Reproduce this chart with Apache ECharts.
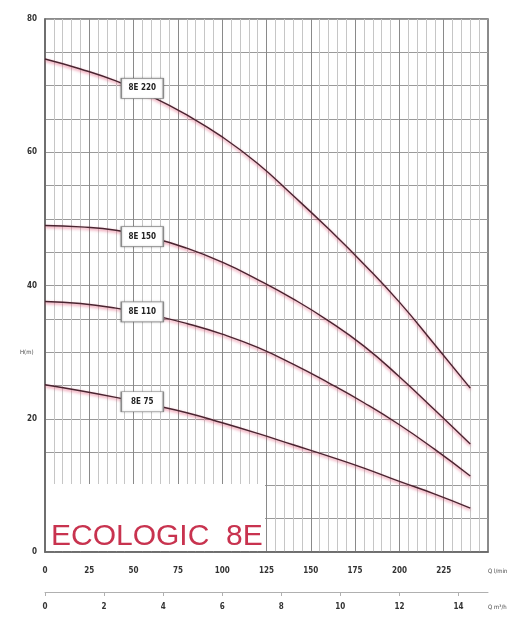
<!DOCTYPE html>
<html>
<head>
<meta charset="utf-8">
<script src="https://cdn.jsdelivr.net/npm/echarts@6/dist/echarts.min.js"></script>
<style>
html,body{margin:0;padding:0;background:#fff;}
#chart{width:515px;height:623px;}
</style>
</head>
<body>
<div id="chart"></div>
<script>
// Flow rate samples (l/min)
const flowLpm = [0, 20, 40, 60, 80, 100, 120, 140, 160, 180, 200, 220, 240];
// Head (m) per model
const head8E220 = [74.0, 72.5, 70.7, 68.4, 65.6, 62.3, 58.3, 53.5, 48.5, 43.2, 37.5, 31.1, 24.6];
const head8E150 = [49.0, 48.8, 48.3, 47.2, 45.6, 43.5, 40.9, 38.0, 34.7, 30.9, 26.3, 21.3, 16.2];
const head8E110 = [37.6, 37.3, 36.6, 35.6, 34.3, 32.7, 30.7, 28.2, 25.4, 22.4, 19.1, 15.4, 11.4];
const head8E75  = [25.1, 24.2, 23.2, 22.1, 20.9, 19.4, 17.8, 16.1, 14.4, 12.6, 10.6, 8.7, 6.6];
const modelNames = ['8E 220', '8E 150', '8E 110', '8E 75'];
const modelHeads = [head8E220, head8E150, head8E110, head8E75];
const labelAtIndex = 3;
// Axis tick labels
const lpmTicks = [0, 25, 50, 75, 100, 125, 150, 175, 200, 225];
const m3hTicks = [0, 2, 4, 6, 8, 10, 12, 14];
const headTicks = [0, 20, 40, 60, 80];
const titleText = 'ECOLOGIC  8E';

// label box pixel nudges (style only)
const labelNudgeY = [-8, -1, -3, -3];

const chart = echarts.init(document.getElementById('chart'), null, {renderer: 'canvas'});

const smallFont = 'DejaVu Sans Condensed, DejaVu Sans, sans-serif';
const tickFont = {fontSize: 8, fontWeight: 'bold', color: '#333', fontFamily: smallFont};

const series = modelNames.map((name, si) => ({
  type: 'line',
  name: name,
  xAxisIndex: 0,
  yAxisIndex: 0,
  smooth: 0.5,
  showSymbol: false,
  silent: true,
  z: 3,
  lineStyle: {color: '#4a2430', width: 1.4, shadowColor: 'rgba(225,70,105,0.75)', shadowBlur: 3, shadowOffsetY: 1.5},
  data: flowLpm.map((q, i) => [q, modelHeads[si][i]]),
  markPoint: {
    silent: true,
    animation: false,
    symbol: 'rect',
    symbolSize: [42, 20],
    symbolOffset: [-9, labelNudgeY[si]],
    itemStyle: {color: '#fff', borderColor: '#8a8a8a', borderWidth: 1, shadowColor: 'rgba(0,0,0,0.25)', shadowBlur: 2},
    label: {show: true, position: 'inside', formatter: name, fontSize: 8, fontWeight: 'bold', color: '#222', fontFamily: smallFont},
    data: [{coord: [flowLpm[labelAtIndex], modelHeads[si][labelAtIndex]], value: name}]
  }
}));

const option = {
  backgroundColor: '#fff',
  animation: false,
  grid: {left: 45, right: 27, top: 19, bottom: 71, show: true, borderColor: '#666', borderWidth: 1.5},
  xAxis: [
    {
      type: 'value', min: 0, max: 250, interval: 25, position: 'bottom',
      axisLine: {show: true, lineStyle: {color: '#666', width: 1.5}},
      axisTick: {show: false},
      minorTick: {show: false, splitNumber: 5},
      minorSplitLine: {show: true, lineStyle: {color: '#c6c6c6', width: 1}},
      splitLine: {show: true, lineStyle: {color: '#8a8a8a', width: 1}},
      axisLabel: Object.assign({margin: 15, formatter: v => lpmTicks.includes(v) ? String(v) : ''}, tickFont)
    },
    {
      type: 'value', min: 0, max: 15, interval: 2, position: 'bottom', offset: 40,
      axisLine: {show: true, lineStyle: {color: '#b0b0b0', width: 1}},
      axisTick: {show: true, length: 4, lineStyle: {color: '#b0b0b0'}, customValues: m3hTicks},
      splitLine: {show: false},
      axisLabel: Object.assign({margin: 11, customValues: m3hTicks, formatter: v => m3hTicks.includes(v) ? String(v) : ''}, tickFont)
    }
  ],
  yAxis: {
    type: 'value', min: 0, max: 80, interval: 5,
    axisLine: {show: true, lineStyle: {color: '#666', width: 1.5}},
    axisTick: {show: false},
    splitLine: {show: true, lineStyle: {color: '#9a9a9a', width: 1}},
    axisLabel: Object.assign({margin: 8, formatter: v => headTicks.includes(v) ? String(v) : ''}, tickFont)
  },
  graphic: [
    {type: 'rect', left: 46, top: 484, z: 10, shape: {width: 219, height: 67}, style: {fill: '#fff'}},
    {type: 'text', left: 51, top: 522, z: 11, style: {text: titleText, fontSize: 30, fill: '#c8334f', fontFamily: 'Liberation Sans, Arial, sans-serif'}},
    {type: 'text', left: 20, top: 349, z: 11, style: {text: 'H(m)', fontSize: 6, fill: '#444', fontFamily: smallFont}},
    {type: 'text', left: 488, top: 568, z: 11, style: {text: 'Q l/min', fontSize: 6, fill: '#444', fontFamily: smallFont}},
    {type: 'text', left: 488, top: 604, z: 11, style: {text: 'Q m³/h', fontSize: 6, fill: '#444', fontFamily: smallFont}}
  ],
  series: series
};
chart.setOption(option);
</script>
</body>
</html>
